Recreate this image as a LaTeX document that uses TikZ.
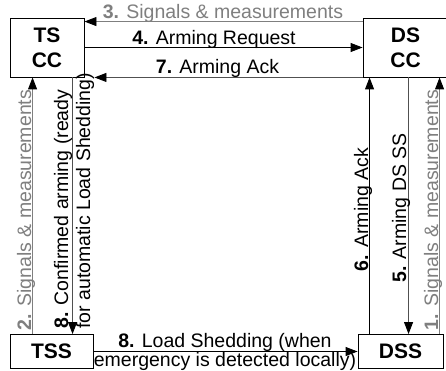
\documentclass[tikz,border=0pt]{standalone}
\usepackage{fontspec}
\setmainfont{Liberation Sans}
\usetikzlibrary{arrows.meta,positioning,calc}
\definecolor{sigGray}{HTML}{7F7F7F}
\definecolor{cmdGray}{HTML}{505050}
\tikzset{
  unitbox/.style={draw, line width=0.9pt, inner sep=0pt, align=center,
    font=\fontsize{21}{25}\selectfont\bfseries},
  flow/.style={line width=0.9pt,
    -{Triangle[length=12pt,width=9pt,color=black,fill=black]}},
  sigflow/.style={flow, draw=sigGray},
  cmdflow/.style={flow, draw=cmdGray},
  lbl/.style={inner sep=0pt, font=\fontsize{19.5}{21}\selectfont},
  siglbl/.style={lbl, text=sigGray},
}

\begin{document}
\begin{tikzpicture}[x=1pt, y=-1pt]
 \useasboundingbox (0,0) rectangle (446,371);
 % control centres and substations
 \node[unitbox, minimum width=74pt, minimum height=59pt] (tscc) at (47,47.5) {TS\\CC};
 \node[unitbox, minimum width=85pt, minimum height=59pt] (dscc) at (405.5,47.5) {DS\\CC};
 \node[unitbox, minimum width=83pt, minimum height=34pt] (tss) at (51.5,351.5) {TSS};
 \node[unitbox, minimum width=85pt, minimum height=34pt] (dss) at (400.5,351.5) {DSS};
 % horizontal messages
 \draw[sigflow] ([yshift=-4pt]dscc.north west) -- ([yshift=-4pt]tscc.north east);
 \draw[flow] (tscc.east) -- (dscc.west);
 \draw[cmdflow] (dscc.south west) -- ([xshift=10pt]tscc.south east);
 \draw[flow] (tss.east) -- (dss.west);
 % vertical messages
 \coordinate (s2) at ([xshift=23pt]tss.north west);
 \coordinate (s8) at ([xshift=63pt]tss.north west);
 \coordinate (s6) at ([xshift=12pt]dss.north west);
 \coordinate (s5) at ([xshift=51pt]dss.north west);
 \coordinate (s1) at ([xshift=82pt]dss.north west);
 \draw[sigflow] (s2) -- (s2 |- tscc.south);
 \draw[cmdflow] (s8 |- tscc.south) -- (s8);
 \draw[flow] (s6) -- (s6 |- dscc.south);
 \draw[cmdflow] (s5 |- dscc.south) -- (s5);
 \draw[sigflow] (s1) -- (s1 |- dscc.south);
 % labels
 \node[siglbl, anchor=base] (l3) at (223,19) {\textbf{3.} Signals \& measurements};
 \node[lbl, anchor=base] (l4) at (214,45) {\textbf{4.} Arming Request};
 \node[lbl, anchor=base] (l7) at (217.5,74) {\textbf{7.} Arming Ack};
 \node[lbl, align=center, anchor=base, font=\fontsize{19.5}{19}\selectfont] (l8b)
   at (225,366) {\textbf{8.} Load Shedding (when\\emergency is detected locally)};
 \node[siglbl, rotate=90, anchor=base] (l2) at (31,210) {\textbf{2.} Signals \& measurements};
 \node[siglbl, rotate=90, anchor=base] (l1) at (438,210) {\textbf{1.} Signals \& measurements};
 \node[lbl, rotate=90, anchor=base] (l5) at (406,208) {\textbf{5.} Arming DS SS};
 \node[lbl, rotate=90, anchor=base] (l6) at (368,209.5) {\textbf{6.} Arming Ack};
 \node[lbl, rotate=90, anchor=base west, align=left, font=\fontsize{19.5}{22}\selectfont] (l8v)
   at (90,329) {\textbf{8.} Confirmed arming (ready\\for automatic Load Shedding)};
\end{tikzpicture}
\end{document}
